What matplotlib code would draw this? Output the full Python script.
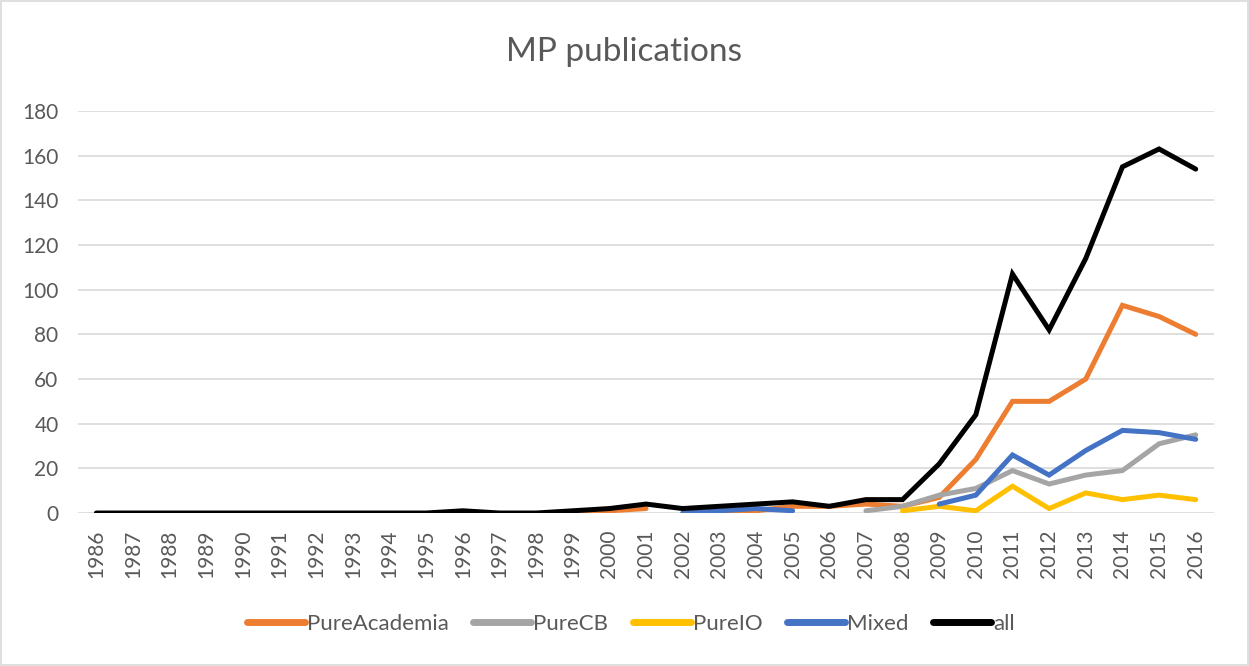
import matplotlib.pyplot as plt
import numpy as np

years = list(range(1986, 2017))
nan = np.nan

# values per year 1986..2016 (nan = no point)
pure_academia = [nan]*13 + [0, 1, 2, nan, 0, 1, 3, 3, 4, 3, 7, 24, 50, 50, 60, 93, 88, 80]
pure_cb = [nan]*21 + [1, 3, 8, 11, 19, 13, 17, 19, 31, 35]
pure_io = [nan]*22 + [1, 3, 1, 12, 2, 9, 6, 8, 6]
mixed = [nan]*16 + [0, 1, 2, 1, nan, nan, nan, 4, 8, 26, 17, 28, 37, 36, 33]
all_pubs = [0]*10 + [1, 0, 0, 1, 2, 4, 2, 3, 4, 5, 3, 6, 6, 22, 44, 107, 82, 114, 155, 163, 154]

series = [
    ("PureAcademia", pure_academia, "#ED7D31"),
    ("PureCB", pure_cb, "#A5A5A5"),
    ("PureIO", pure_io, "#FFC000"),
    ("Mixed", mixed, "#4472C4"),
    ("all", all_pubs, "#000000"),
]

plt.rcParams['font.family'] = ['Lato', 'DejaVu Sans']
txt = "#595959"

fig = plt.figure(figsize=(12.49, 6.66), dpi=100)
ax = fig.add_axes([0.0625, 0.2297, 0.972 - 0.0625, 0.8333 - 0.2297])

x = np.arange(len(years))
for name, vals, col in series:
    ax.plot(x, vals, color=col, lw=3.6, label=name, solid_capstyle='round',
            solid_joinstyle='miter')

ax.set_xlim(-0.5, len(years) - 0.5)
ax.set_ylim(0, 180)
ax.set_yticks(range(0, 181, 20))
ax.set_xticks(x)
ax.set_xticklabels([str(y) for y in years], rotation=90)
ax.tick_params(length=0, labelsize=15, colors=txt)
ax.tick_params(axis='y', pad=14)
ax.tick_params(axis='x', pad=12)
ax.grid(axis='y', color='#D9D9D9', lw=1.2)
ax.set_axisbelow(True)
for s in ax.spines.values():
    s.set_visible(False)

fig.suptitle("MP publications", y=0.945, fontsize=24, color=txt)

leg = fig.legend(loc='lower center', bbox_to_anchor=(0.505, 0.018), ncol=5, frameon=False,
                 fontsize=16, handlelength=2.6, handletextpad=0.1, columnspacing=1.1,
                 labelcolor=txt)
for h in leg.legend_handles:
    h.set_linewidth(5)

fig.patches.append(plt.Rectangle((0.001, 0.001), 0.998, 0.997, transform=fig.transFigure,
                                 fill=False, edgecolor='#D9D9D9', lw=1.2))

fig.savefig("out.png", dpi=100)
